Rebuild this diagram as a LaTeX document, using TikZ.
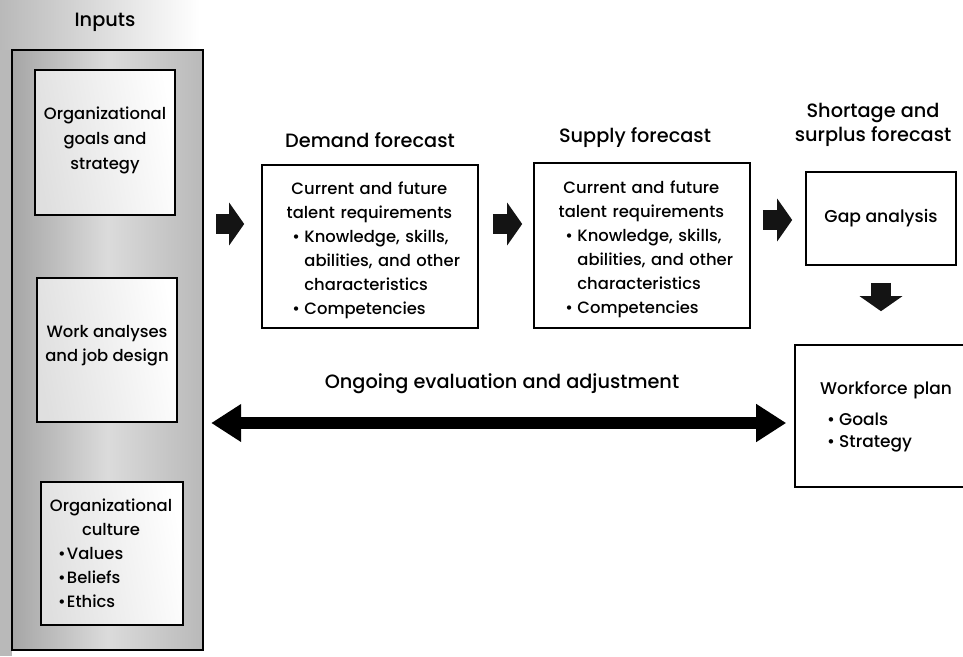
\documentclass[tikz,border=0pt]{standalone}
\usepackage{fontspec}
\IfFontExistsTF{Poppins Medium}{\setmainfont{Poppins Medium}}{\setmainfont{Poppins}}
\usetikzlibrary{arrows.meta}

% bullet item: #1 = indent before the bullet, #2 = bullet box width, #3 = text
\newcommand\bitem[3]{\par\hangindent=\dimexpr#1+#2\relax\hangafter=1\noindent\hspace*{#1}\makebox[#2][l]{\textbullet}#3}
% heading line centred over the first 164pt of a forecast text block
\newcommand\headline[1]{\par\noindent\makebox[164pt][c]{#1}}

\tikzset{
  box/.style={draw=black, line width=1.6pt, fill=white, inner sep=0pt},
  inbox/.style={box, left color=gray!25, right color=white, shading angle=100},
  ttl/.style={font=\fontsize{19.3}{24}\selectfont, align=center, inner sep=0pt},
  body/.style={font=\fontsize{16.4}{24}\selectfont},
  fctext/.style={body, text width=178pt, inner sep=0pt},
  blockarrow/.style={draw=black!92, line width=20pt, -{Triangle[length=15pt,width=42pt]}},
  longarrow/.style={draw=black, line width=12pt, {Triangle[length=30pt,width=36pt]}-{Triangle[length=30pt,width=36pt]}},
}

\begin{document}
\begin{tikzpicture}[x=1pt, y=-1pt]
  \useasboundingbox (0,0) rectangle (963,656);

  % grey haze at the scanned page edge
  \shade[left color=gray!55, right color=white] (0,0) rectangle (200,50);
  \fill[gray!55] (0,50) rectangle (12,656);

  % inputs column
  \node[ttl] (inputs) at (105,22) {Inputs};
  \node[draw=black, line width=2.4pt,
        left color=gray!70, right color=gray!55, middle color=gray!28,
        minimum width=191pt, minimum height=600pt] (panel) at (107.5,350) {};

  \node[inbox, minimum width=140pt, minimum height=145pt] (in1) at (105,142.5) {};
  \node[align=center, inner sep=0pt, font=\fontsize{16.4}{25}\selectfont] (in1t) at (105,140) {Organizational\\goals and\\strategy};

  \node[inbox, minimum width=140pt, minimum height=144pt] (in2) at (107,350) {};
  \node[body, align=center, inner sep=0pt] (in2t) at (107,346) {Work analyses\\and job design};

  \node[inbox, minimum width=142pt, minimum height=143pt] (in3) at (112,553.5) {};
  \node[body, text width=124pt, inner sep=0pt] (in3t) at (111,553) {%
    {\centering Organizational\\culture\par}%
    \bitem{9pt}{9pt}{Values}\bitem{9pt}{9pt}{Beliefs}\bitem{9pt}{9pt}{Ethics}\par};

  % forecasts
  \node[ttl] (dtitle) at (370,140) {Demand forecast};
  \node[box, minimum width=216pt, minimum height=163pt] (demand) at (370,246.5) {};
  \node[fctext, anchor=west] (demandt) at ([xshift=26pt,yshift=2pt]demand.west) {%
    \headline{Current and future}\headline{talent requirements}%
    \bitem{5pt}{12pt}{Knowledge, skills, abilities, and other characteristics}%
    \bitem{5pt}{12pt}{Competencies}\par};

  \node[ttl] (stitle) at (635,138) {Supply forecast};
  \node[box, minimum width=216pt, minimum height=165pt] (supply) at (642,245.5) {};
  \node[fctext, anchor=west] (supplyt) at ([xshift=26pt,yshift=2pt]supply.west) {%
    \headline{Current and future}\headline{talent requirements}%
    \bitem{6pt}{12pt}{Knowledge, skills, abilities, and other characteristics}%
    \bitem{6pt}{12pt}{Competencies}\par};

  \node[ttl] (gtitle) at (873,125) {Shortage and\\surplus forecast};
  \node[box, font=\fontsize{17.2}{24}\selectfont, minimum width=150pt, minimum height=93pt] (gap) at (881,218.5) {Gap analysis};

  % the plan box runs on past the right edge of the page
  \node[box, minimum width=200pt, minimum height=142pt] (wf) at (895,416) {};
  \node[font=\fontsize{17}{24}\selectfont, text width=138pt, inner sep=0pt, anchor=north west] (wft) at (820,381) {%
    Workforce plan\par\vspace{7pt}%
    \bitem{7pt}{12pt}{Goals}\vspace{-2pt}\bitem{7pt}{12pt}{Strategy}\par};

  \node[ttl] (ongoing) at (502,384) {Ongoing evaluation and adjustment};

  % flow arrows
  \coordinate (rowA) at (0,224);
  \coordinate (rowB) at (0,220);
  \coordinate (rowC) at (0,423);
  \draw[blockarrow, shorten <=12pt, shorten >=17pt] (panel.east |- rowA) -- (demand.west |- rowA);
  \draw[blockarrow, shorten <=14pt, shorten >=11pt] (demand.east |- rowA) -- (supply.west |- rowA);
  \draw[blockarrow, shorten <=12pt, shorten >=13pt] (supply.east |- rowB) -- (gap.west |- rowB);
  \draw[blockarrow, shorten <=17pt, shorten >=33pt] (gap.south -| gap.center) -- (gap.center |- wf.north);
  \draw[longarrow, shorten <=7pt, shorten >=8pt] (panel.east |- rowC) -- (wf.west |- rowC);
\end{tikzpicture}
\end{document}
